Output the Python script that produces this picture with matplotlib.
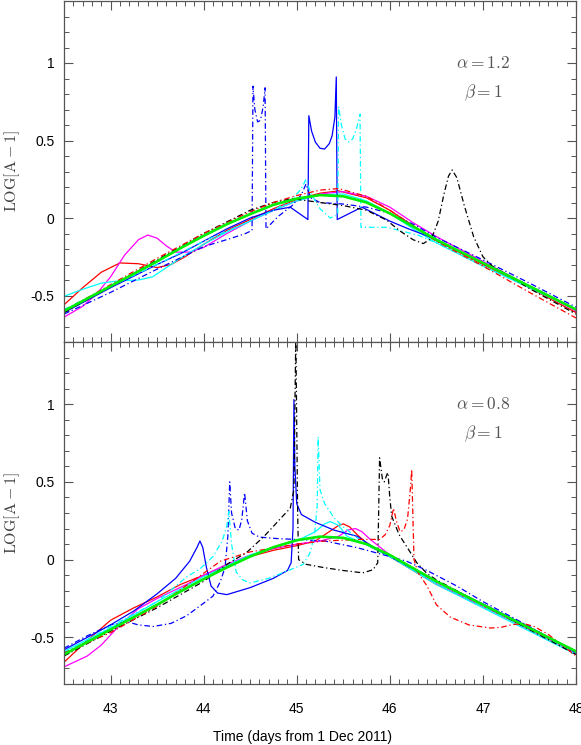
import numpy as np
import matplotlib
matplotlib.use("Agg")
from matplotlib import pyplot as plt
from matplotlib.ticker import MultipleLocator, FuncFormatter

# ---- data: (time, log[A-1]) ----
# top panel (alpha = 1.2)
top_green = [(42.5, -0.60), (42.75, -0.52), (43.0, -0.44), (43.25, -0.36), (43.5, -0.28),
             (43.75, -0.195), (44.0, -0.115), (44.25, -0.04), (44.5, 0.025), (44.75, 0.085),
             (45.0, 0.125), (45.25, 0.148), (45.5, 0.14), (45.75, 0.10), (46.0, 0.03),
             (46.25, -0.055), (46.5, -0.14), (46.75, -0.215), (47.0, -0.29), (47.25, -0.365),
             (47.5, -0.44), (47.75, -0.515), (48.0, -0.59)]
top_red = [(42.5, -0.56), (42.7, -0.45), (42.9, -0.35), (43.1, -0.29), (43.3, -0.295),
           (43.5, -0.32), (43.65, -0.30), (43.8, -0.25), (44.0, -0.17), (44.25, -0.08),
           (44.5, -0.01), (44.75, 0.06), (45.0, 0.12), (45.25, 0.16), (45.45, 0.175),
           (45.75, 0.13), (46.0, 0.05), (46.25, -0.05), (46.5, -0.145), (47.0, -0.30),
           (47.5, -0.45), (48.0, -0.61)]
top_magenta = [(42.5, -0.64), (42.7, -0.57), (42.85, -0.49), (43.0, -0.38), (43.15, -0.24),
               (43.3, -0.14), (43.4, -0.11), (43.5, -0.13), (43.6, -0.18), (43.7, -0.22),
               (43.85, -0.22), (44.0, -0.19), (44.25, -0.10), (44.5, -0.02), (44.75, 0.05),
               (45.0, 0.11), (45.25, 0.155), (45.5, 0.17), (45.75, 0.14), (46.0, 0.07),
               (46.25, -0.03), (46.5, -0.12), (46.75, -0.20), (47.0, -0.28), (47.5, -0.44),
               (48.0, -0.60)]
top_cyan = [(42.5, -0.505), (42.7, -0.46), (42.9, -0.42), (43.1, -0.405), (43.3, -0.40),
            (43.45, -0.38), (43.6, -0.32), (43.8, -0.24), (44.0, -0.17), (44.25, -0.09),
            (44.5, -0.02), (44.75, 0.05), (45.0, 0.11), (45.25, 0.15), (45.5, 0.155),
            (45.75, 0.11), (46.0, 0.03), (46.25, -0.07), (46.5, -0.16), (47.0, -0.31),
            (47.5, -0.45), (48.0, -0.59)]
top_blue = [(42.5, -0.61), (43.0, -0.45), (43.5, -0.30), (43.75, -0.23), (44.0, -0.15),
            (44.25, -0.07), (44.5, 0.0), (44.75, 0.05), (44.93, 0.07), (45.12, -0.01),
            (45.13, 0.66), (45.16, 0.56), (45.2, 0.49), (45.25, 0.45), (45.3, 0.445),
            (45.35, 0.48), (45.38, 0.53), (45.41, 0.65), (45.425, 0.91), (45.435, -0.01),
            (45.70, 0.07), (46.0, -0.02), (46.2, -0.07), (46.4, -0.115), (46.6, -0.175),
            (47.0, -0.29), (47.5, -0.44), (48.0, -0.59)]
top_blue_dd = [(42.5, -0.62), (43.0, -0.48), (43.5, -0.33), (44.0, -0.185), (44.3, -0.13),
               (44.45, -0.10), (44.52, -0.08), (44.53, 0.85), (44.55, 0.70), (44.58, 0.62),
               (44.61, 0.63), (44.64, 0.72), (44.66, 0.84), (44.67, -0.07), (44.8, 0.01),
               (44.95, 0.08), (45.05, 0.15), (45.1, 0.22), (45.15, 0.13), (45.25, 0.10),
               (45.5, 0.09), (45.75, 0.07), (46.0, 0.03), (46.25, -0.04), (46.5, -0.125),
               (47.0, -0.27), (47.5, -0.42), (48.0, -0.575)]
top_cyan_dd = [(42.5, -0.59), (43.0, -0.44), (43.5, -0.30), (44.0, -0.15), (44.5, -0.02),
               (44.75, 0.05), (44.95, 0.12), (45.05, 0.19), (45.1, 0.25), (45.15, 0.16),
               (45.25, 0.06), (45.36, 0.0), (45.44, 0.02), (45.45, 0.72), (45.48, 0.60),
               (45.52, 0.51), (45.56, 0.49), (45.6, 0.51), (45.64, 0.57), (45.68, 0.67),
               (45.69, -0.06), (45.97, -0.06), (46.1, -0.08), (46.3, -0.11), (46.5, -0.16),
               (47.0, -0.31), (47.5, -0.45), (48.0, -0.59)]
top_black_dd = [(42.5, -0.61), (43.0, -0.44), (43.5, -0.27), (44.0, -0.10), (44.5, 0.05),
                (44.75, 0.10), (44.95, 0.125), (45.25, 0.10), (45.5, 0.08), (45.75, 0.05),
                (45.97, -0.015), (46.1, -0.08), (46.25, -0.14), (46.36, -0.165), (46.45, -0.13),
                (46.52, -0.02), (46.58, 0.15), (46.63, 0.27), (46.67, 0.31), (46.72, 0.26),
                (46.8, 0.08), (46.9, -0.12), (47.0, -0.25), (47.1, -0.31), (47.5, -0.455),
                (48.0, -0.62)]
top_red_dd = [(42.5, -0.60), (43.0, -0.43), (43.5, -0.26), (44.0, -0.10), (44.5, 0.04),
              (44.75, 0.10), (45.0, 0.145), (45.25, 0.18), (45.45, 0.19), (45.75, 0.14),
              (46.0, 0.05), (46.25, -0.05), (46.5, -0.15), (47.0, -0.31), (47.5, -0.48),
              (48.0, -0.645)]

# bottom panel (alpha = 0.8)
bot_green = [(42.5, -0.61), (42.75, -0.53), (43.0, -0.45), (43.25, -0.37), (43.5, -0.29),
             (43.75, -0.205), (44.0, -0.125), (44.25, -0.05), (44.5, 0.02), (44.75, 0.08),
             (45.0, 0.125), (45.25, 0.148), (45.5, 0.14), (45.75, 0.10), (46.0, 0.03),
             (46.25, -0.055), (46.5, -0.14), (46.75, -0.215), (47.0, -0.29), (47.25, -0.365),
             (47.5, -0.44), (47.75, -0.515), (48.0, -0.59)]
bot_blue = [(42.5, -0.58), (42.75, -0.50), (43.0, -0.42), (43.25, -0.33), (43.5, -0.22),
            (43.7, -0.12), (43.85, -0.01), (43.93, 0.08), (43.96, 0.12), (43.99, 0.08),
            (44.03, -0.05), (44.08, -0.17), (44.15, -0.215), (44.25, -0.225), (44.5, -0.18),
            (44.75, -0.12), (44.9, -0.07), (44.94, -0.02), (44.96, 0.2), (44.97, 1.03),
            (44.98, 0.6), (45.0, 0.36), (45.05, 0.29), (45.2, 0.24), (45.4, 0.19),
            (45.65, 0.15), (45.85, 0.07), (46.0, 0.02), (46.25, -0.06), (46.5, -0.14),
            (47.0, -0.285), (47.5, -0.435), (48.0, -0.59)]
bot_blue_dd = [(42.5, -0.57), (42.75, -0.49), (43.0, -0.42), (43.18, -0.40), (43.3, -0.42),
               (43.46, -0.43), (43.65, -0.41), (43.82, -0.36), (44.0, -0.28), (44.1, -0.235),
               (44.18, -0.14), (44.23, -0.05), (44.26, 0.15), (44.28, 0.50), (44.3, 0.30),
               (44.34, 0.20), (44.38, 0.19), (44.41, 0.26), (44.44, 0.43), (44.47, 0.25),
               (44.52, 0.17), (44.6, 0.145), (44.8, 0.135), (45.0, 0.13), (45.3, 0.12),
               (45.65, 0.077), (46.0, 0.02), (46.18, -0.01), (46.4, -0.07), (46.72, -0.17),
               (47.0, -0.27), (47.5, -0.43), (48.0, -0.60)]
bot_cyan_dd = [(42.5, -0.60), (43.0, -0.43), (43.5, -0.27), (43.82, -0.11), (43.96, -0.06),
               (44.1, 0.02), (44.2, 0.12), (44.25, 0.22), (44.27, 0.31), (44.3, 0.10),
               (44.35, -0.08), (44.42, -0.13), (44.5, -0.15), (44.7, -0.12), (44.93, -0.065),
               (45.07, -0.03), (45.14, 0.04), (45.19, 0.15), (45.22, 0.35), (45.23, 0.79),
               (45.25, 0.45), (45.3, 0.36), (45.4, 0.27), (45.5, 0.21), (45.65, 0.14),
               (45.8, 0.08), (46.0, 0.02), (46.5, -0.15), (47.0, -0.30), (47.5, -0.45),
               (48.0, -0.60)]
bot_black_dd = [(42.5, -0.62), (43.0, -0.46), (43.5, -0.31), (44.0, -0.14), (44.25, -0.03),
                (44.46, 0.045), (44.65, 0.15), (44.85, 0.28), (44.93, 0.33), (44.97, 0.45),
                (44.99, 1.45), (45.01, 0.30), (45.02, 0.0), (45.1, -0.03), (45.28, -0.05),
                (45.5, -0.07), (45.71, -0.085), (45.82, -0.065), (45.87, -0.02), (45.88, 0.3),
                (45.89, 0.655), (45.92, 0.52), (45.94, 0.50), (45.97, 0.55), (45.98, 0.56),
                (46.0, 0.40), (46.02, 0.28), (46.1, 0.16), (46.18, 0.085), (46.29, -0.02),
                (46.4, -0.09), (46.5, -0.13), (47.0, -0.29), (47.5, -0.45), (48.0, -0.61)]
bot_red_dd = [(42.5, -0.60), (43.0, -0.47), (43.5, -0.30), (44.03, -0.075), (44.18, -0.01),
              (44.5, 0.05), (45.0, 0.10), (45.3, 0.12), (45.68, 0.13), (45.89, 0.13),
              (45.95, 0.16), (46.0, 0.22), (46.04, 0.33), (46.07, 0.25), (46.11, 0.18),
              (46.15, 0.19), (46.19, 0.26), (46.22, 0.45), (46.235, 0.58), (46.26, 0.0),
              (46.3, -0.08), (46.4, -0.17), (46.5, -0.29), (46.65, -0.37), (46.85, -0.42),
              (47.08, -0.44), (47.2, -0.435), (47.3, -0.42), (47.43, -0.41), (47.55, -0.43),
              (47.7, -0.48), (47.85, -0.55), (48.0, -0.62)]
bot_red = [(42.5, -0.66), (42.75, -0.52), (43.0, -0.39), (43.25, -0.31), (43.5, -0.24),
           (43.75, -0.16), (44.0, -0.10), (44.25, -0.04), (44.5, 0.02), (44.75, 0.06),
           (45.0, 0.09), (45.2, 0.12), (45.35, 0.18), (45.45, 0.22), (45.5, 0.23),
           (45.57, 0.21), (45.65, 0.16), (45.8, 0.08), (46.0, 0.02), (46.25, -0.07),
           (46.5, -0.16), (47.0, -0.30), (47.5, -0.45), (48.0, -0.60)]
bot_magenta = [(42.5, -0.69), (42.75, -0.62), (42.9, -0.55), (43.1, -0.42), (43.3, -0.315),
               (43.5, -0.25), (43.64, -0.21), (43.85, -0.15), (44.0, -0.10), (44.25, -0.03),
               (44.5, 0.03), (44.75, 0.07), (45.0, 0.10), (45.25, 0.12), (45.45, 0.15),
               (45.55, 0.19), (45.63, 0.20), (45.7, 0.18), (45.79, 0.13), (46.0, 0.03),
               (46.25, -0.065), (46.5, -0.155), (47.0, -0.30), (47.5, -0.45), (48.0, -0.60)]
bot_cyan = [(42.5, -0.59), (43.0, -0.44), (43.5, -0.27), (44.0, -0.11), (44.5, 0.03),
            (44.75, 0.08), (45.0, 0.12), (45.2, 0.18), (45.3, 0.23), (45.36, 0.245),
            (45.45, 0.22), (45.54, 0.15), (45.7, 0.11), (46.0, 0.02), (46.5, -0.16),
            (47.0, -0.31), (47.5, -0.46), (48.0, -0.61)]

panel_labels = [(r'$\alpha=1.2$', r'$\beta=1$'), (r'$\alpha=0.8$', r'$\beta=1$')]
x_ticks = [43, 44, 45, 46, 47, 48]
y_ticks = [-0.5, 0, 0.5, 1]

SOLID = '-'
DD = (0, (4.5, 2.2, 1.0, 2.2))

top_curves = [
    (top_red, 'red', SOLID), (top_magenta, 'magenta', SOLID), (top_cyan, 'cyan', SOLID),
    (top_blue, 'blue', SOLID), (top_blue_dd, 'blue', DD), (top_cyan_dd, 'cyan', DD),
    (top_black_dd, 'black', DD), (top_red_dd, 'red', DD),
]
bot_curves = [
    (bot_red, 'red', SOLID), (bot_magenta, 'magenta', SOLID), (bot_cyan, 'cyan', SOLID),
    (bot_blue, 'blue', SOLID), (bot_blue_dd, 'blue', DD), (bot_cyan_dd, 'cyan', DD),
    (bot_black_dd, 'black', DD), (bot_red_dd, 'red', DD),
]

plt.rcParams['font.family'] = ['Liberation Sans', 'DejaVu Sans']
plt.rcParams['mathtext.fontset'] = 'cm'

fig = plt.figure(figsize=(5.81, 7.45), dpi=100)
W, H = 581.0, 745.0
ax_top = fig.add_axes([64 / W, (745 - 342) / H, 512 / W, 341 / H])
ax_bot = fig.add_axes([64 / W, 61 / H, 512 / W, 342 / H])

for ax, curves, green, labels in [(ax_top, top_curves, top_green, panel_labels[0]),
                                  (ax_bot, bot_curves, bot_green, panel_labels[1])]:
    for pts, col, ls in curves:
        arr = np.array(pts)
        ax.plot(arr[:, 0], arr[:, 1], color=col, linestyle=ls, lw=0.9)
    g = np.array(green)
    ax.plot(g[:, 0], g[:, 1], color='#00ee00', lw=1.9)

    ax.set_xlim(42.5, 48)
    ax.set_ylim(-0.8, 1.4)
    ax.xaxis.set_major_locator(MultipleLocator(1))
    ax.xaxis.set_minor_locator(MultipleLocator(0.1))
    ax.yaxis.set_major_locator(MultipleLocator(0.5))
    ax.yaxis.set_minor_locator(MultipleLocator(0.1))
    ax.yaxis.set_major_formatter(FuncFormatter(lambda v, p: '%g' % v))
    ax.xaxis.set_major_formatter(FuncFormatter(lambda v, p: '%g' % v))
    ax.tick_params(which='both', direction='in', top=True, right=True, color='#555555')
    ax.tick_params(which='major', length=6.5, width=0.8, labelsize=10)
    ax.tick_params(which='minor', length=3.3, width=0.7)
    ax.tick_params(axis='y', pad=7)
    ax.tick_params(axis='x', pad=13)
    for s in ax.spines.values():
        s.set_color('#555555')
        s.set_linewidth(0.9)
    ax.text(47.0, 1.0, labels[0], fontsize=12.5, color='#555555', ha='center', va='center')
    ax.text(47.0, 0.81, labels[1], fontsize=12.5, color='#555555', ha='center', va='center')

ax_top.tick_params(axis='x', labelbottom=False)

fig.text(12 / W, 1 - 171 / H, r'$\mathrm{LOG[A-1]}$', rotation=90, ha='center', va='center',
         fontsize=11.5, color='#444444')
fig.text(12 / W, 1 - 513 / H, r'$\mathrm{LOG[A-1]}$', rotation=90, ha='center', va='center',
         fontsize=11.5, color='#444444')
fig.text(303 / W, 1 - 737 / H, 'Time (days from 1 Dec 2011)', ha='center', va='center',
         fontsize=10)

fig.savefig('out.png', dpi=100)
